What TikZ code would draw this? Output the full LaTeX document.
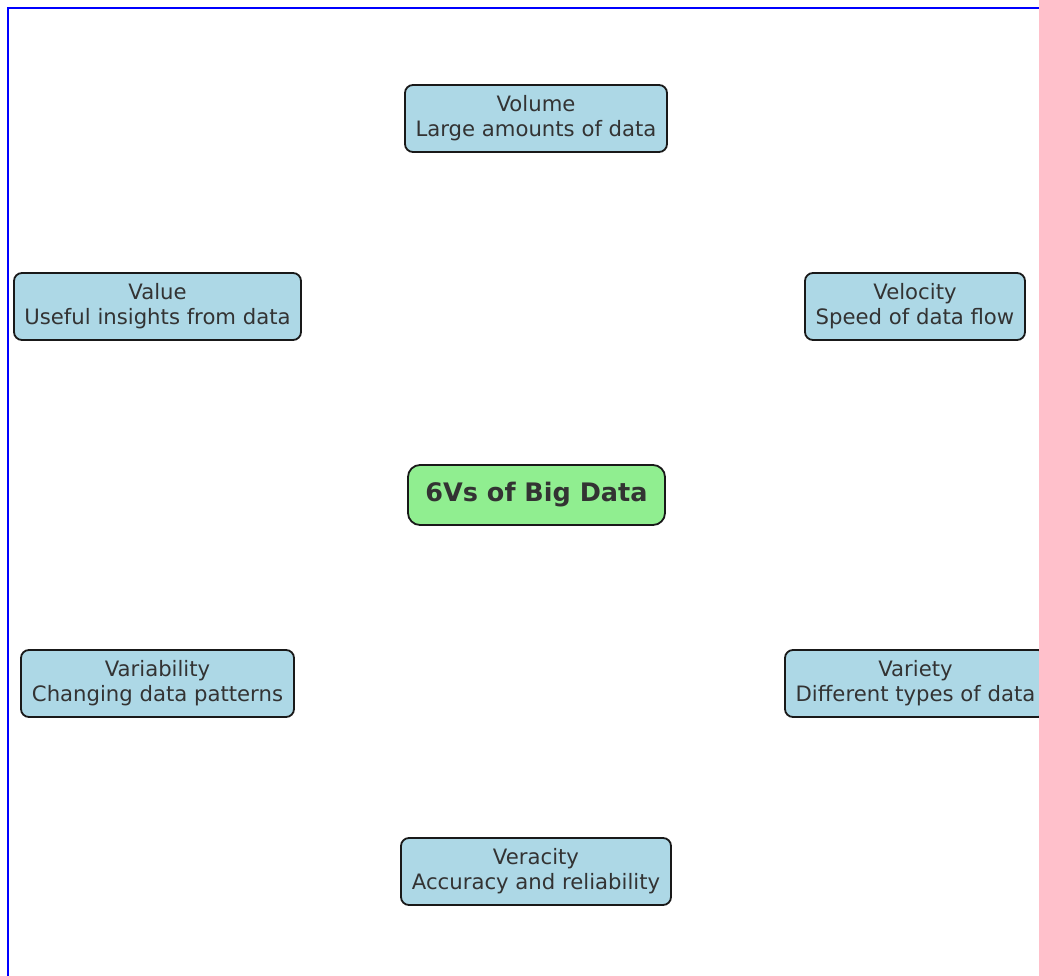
\documentclass[tikz,border=0pt]{standalone}
\usepackage{fontspec}
\setmainfont{DejaVu Sans}
\definecolor{boxblue}{HTML}{ADD8E6}
\definecolor{boxgreen}{HTML}{90EE90}
\definecolor{txt}{HTML}{333333}
\begin{document}
\begin{tikzpicture}[x=1pt,y=-1pt,
  vbox/.style={draw=black!90, line width=1.8pt, rounded corners=8pt, fill=boxblue,
    text=txt, align=center, inner sep=0pt, minimum height=67pt,
    font=\fontsize{21.2}{25}\selectfont},
  cbox/.style={draw=black!90, line width=1.8pt, rounded corners=12pt, fill=boxgreen,
    text=txt, align=center, inner sep=0pt, minimum height=60pt, minimum width=257pt,
    font=\fontsize{25.5}{28}\selectfont\bfseries}]
\useasboundingbox (0,0) rectangle (1039,975);
\fill[white] (0,0) rectangle (1039,975);
\draw[blue, line width=2.2pt] (8,1000) -- (8,8) -- (1060,8);
\node[cbox] (center) at (536.5,495) {6Vs of Big Data};
\node[vbox, minimum width=262pt] (volume) at (536,118.5) {Volume\\Large amounts of data};
\node[vbox, minimum width=287pt] (value) at (157.5,306.5) {Value\\Useful insights from data};
\node[vbox, minimum width=220pt] (velocity) at (915,306.5) {Velocity\\Speed of data flow};
\node[vbox, minimum width=273pt] (variability) at (157.5,683.5) {Variability\\Changing data patterns};
\node[vbox, minimum width=261pt] (variety) at (915.5,683.5) {Variety\\Different types of data};
\node[vbox, minimum width=270pt] (veracity) at (536,871.5) {Veracity\\Accuracy and reliability};
\end{tikzpicture}
\end{document}
